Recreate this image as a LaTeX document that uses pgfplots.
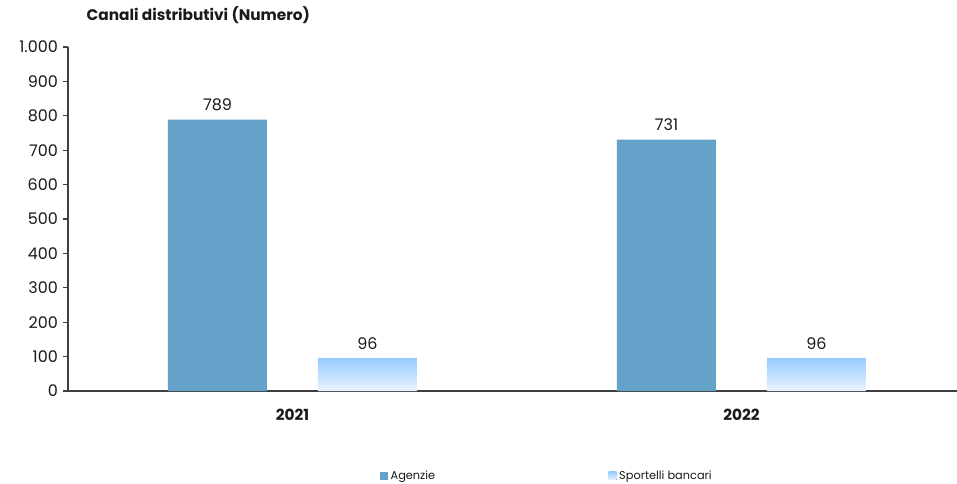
\documentclass[border=0pt]{standalone}
\usepackage{pgfplots}
\pgfplotsset{compat=1.18}
\usepackage{fontspec}
\setmainfont{Poppins}
\definecolor{agz}{HTML}{65A2CA}
\definecolor{spt}{HTML}{99CCFF}
\definecolor{sptb}{HTML}{E8F3FF}
\definecolor{txt}{HTML}{1A1A1A}
\begin{document}
\begin{tikzpicture}
\useasboundingbox (-51pt,-69pt) rectangle (666.75pt,293.25pt);
\begin{axis}[
  at={(0pt,0pt)}, anchor=south west,
  scale only axis, width=666.75pt, height=258pt,
  xmin=-0.5, xmax=1.48, ymin=0, ymax=1000,
  axis x line=bottom, axis y line=left,
  axis line style={-, draw=black!75, line width=0.8pt},
  ytick={0,100,...,1000},
  y tick label style={font=\fontsize{12}{14}\selectfont, color=txt},
  /pgf/number format/.cd, 1000 sep={.}, assume math mode=true, /pgfplots/.cd,
  tick align=outside, major tick length=4pt,
  ytick style={draw=black!75, line width=0.8pt},
  xtick={0,1}, xticklabels={2021,2022},
  x tick label style={font=\fontsize{11.5}{14}\selectfont\bfseries, color=txt, yshift=-6pt},
  x tick style={draw=none},
  extra x ticks={0.5}, extra x tick labels={},
  extra x tick style={tick style={draw=black!60, line width=0.8pt}, major tick length=5pt},
  ybar, bar width=74.25pt,
  nodes near coords,
  every node near coord/.append style={font=\fontsize{12}{14}\selectfont, color=txt, yshift=3pt},
  clip=false,
  legend columns=2,
  legend style={draw=none, at={(0.539,-0.247)}, anchor=center,
    font=\fontsize{8.5}{10}\selectfont, text=txt,
    /tikz/every even column/.append style={column sep=128pt}},
  legend image code/.code={\fill[#1] (0pt,-3pt) rectangle (6pt,3pt);},
]
\addplot[fill=agz, draw=none, bar shift=-56.25pt] coordinates {(0,789) (1,731)};
\addlegendentry{Agenzie}
\addplot[draw=none, top color=spt, bottom color=sptb, bar shift=56.25pt] coordinates {(0,96) (1,96)};
\addlegendentry{Sportelli bancari}
\end{axis}
\node[anchor=west, font=\fontsize{11.5}{14}\selectfont\bfseries, text=txt] at (10.5pt,282pt) {Canali distributivi (Numero)};
\end{tikzpicture}
\end{document}
